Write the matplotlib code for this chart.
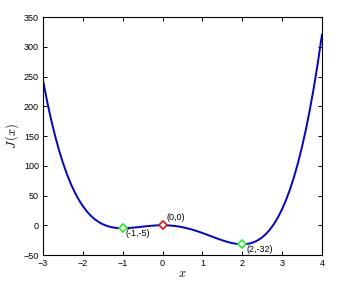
import numpy as np
import matplotlib
matplotlib.use('Agg')
import matplotlib.pyplot as plt

# values, x from -3 to 4 in steps of 0.1
x_vals = np.round(np.arange(-3.0, 4.01, 0.1), 1)
J_vals = [243.0, 208.8, 178.1, 150.7, 126.3, 104.7, 85.7, 69.1, 54.8, 42.5,
          32.0, 23.2, 15.9, 10.0, 5.3, 1.7, -1.0, -2.9, -4.2, -4.8,
          -5.0, -4.8, -4.4, -3.8, -3.1, -2.3, -1.6, -1.0, -0.4, -0.1,
          0.0, -0.1, -0.5, -1.2, -2.1, -3.3, -4.8, -6.5, -8.5, -10.7,
          -13.0, -15.5, -18.0, -20.5, -23.0, -25.3, -27.4, -29.3, -30.7, -31.7,
          -32.0, -31.6, -30.4, -28.2, -24.9, -20.3, -14.3, -6.8, 2.5, 13.7,
          27.0, 42.6, 60.6, 81.4, 105.0, 131.7, 161.7, 195.4, 232.8, 274.2,
          320.0]

# stationary points
min_x = [-1, 2]
min_J = [-5, -32]
max_x = [0]
max_J = [0]
point_labels = ['(-1,-5)', '(0,0)', '(2,-32)']

plt.rcParams['font.family'] = ['Arial', 'Liberation Sans', 'DejaVu Sans']
plt.rcParams['mathtext.fontset'] = 'cm'

fig = plt.figure(figsize=(3.53, 2.81), dpi=100)
ax = fig.add_axes([0.122, 0.0925, 0.790, 0.847])

ax.plot(x_vals, J_vals, color='#0000dd', lw=1.4)
ax.plot(min_x, min_J, ls='none', marker='D', ms=4, mfc='white', mec='#22ee22', mew=1.2)
ax.plot(max_x, max_J, ls='none', marker='D', ms=4, mfc='white', mec='#ee1111', mew=1.2)

ax.text(-0.93, -6, point_labels[0], fontsize=6.5, va='top', ha='left')
ax.text(0.1, 6, point_labels[1], fontsize=6.5, va='bottom', ha='left')
ax.text(2.1, -33, point_labels[2], fontsize=6.5, va='top', ha='left')

ax.set_xlim(-3, 4)
ax.set_ylim(-50, 350)
ax.set_xticks(np.arange(-3, 5, 1))
ax.set_yticks(np.arange(-50, 351, 50))
ax.tick_params(direction='in', top=True, right=True, labelsize=6.5, length=3, width=0.7, pad=3)
for s in ax.spines.values():
    s.set_linewidth(0.8)

ax.set_xlabel('$x$', fontsize=9, labelpad=0)
ax.set_ylabel('$J\\,(x)$', fontsize=9, labelpad=2)

plt.savefig('out.png', dpi=100)
